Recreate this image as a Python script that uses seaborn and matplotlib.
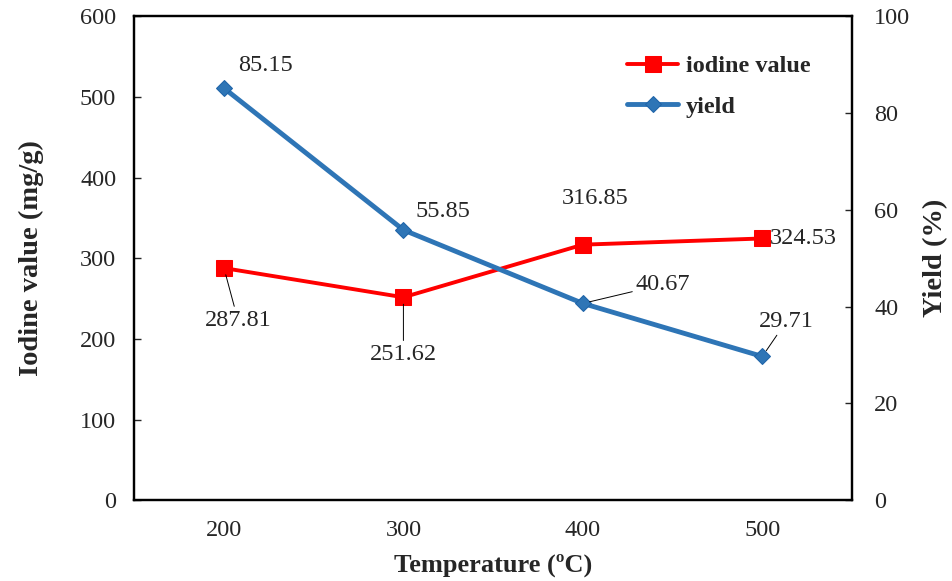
import numpy as np
import pandas as pd
import matplotlib
matplotlib.use("Agg")
import matplotlib.pyplot as plt
import seaborn as sns

temperature = ["200", "300", "400", "500"]
iodine_value = [287.81, 251.62, 316.85, 324.53]
yield_pct = [85.15, 55.85, 40.67, 29.71]

# label offsets in pixels (dx, dy) and whether a leader line is drawn
iodine_offsets = [(14, -52, True), (0, -57, True), (12, 46, False), (41, 0, False)]
yield_offsets = [(42, 23, False), (40, 18, False), (80, 19, True), (24, 35, True)]

sns.set_style("white")
plt.rcParams["font.family"] = ["Liberation Serif", "DejaVu Serif"]

df = pd.DataFrame({"temp": temperature, "iodine": iodine_value, "yield": yield_pct})

fig = plt.figure(figsize=(9.52, 5.81), dpi=100)
ax = fig.add_axes([0.141, 0.139, 0.754, 0.833])
ax2 = ax.twinx()

sns.lineplot(data=df, x="temp", y="iodine", ax=ax, color="#FF0000", lw=2.8,
             marker="s", markersize=11, markeredgecolor="#FF0000",
             label="iodine value", legend=False, sort=False)
sns.lineplot(data=df, x="temp", y="yield", ax=ax2, color="#2E75B6", lw=3.5,
             marker="D", markersize=8, markeredgecolor="#1F64A8",
             label="yield", legend=False, sort=False)

ax.set_xlim(-0.5, 3.5)
ax.set_ylim(0, 600)
ax2.set_ylim(0, 100)
ax.set_yticks(np.arange(0, 601, 100))
ax2.set_yticks(np.arange(0, 101, 20))

ax.set_xticks(range(4))
ax.set_xticklabels(temperature)
ax.set_xticks([0.5, 1.5, 2.5], minor=True)
ax.tick_params(axis="x", which="major", length=0, pad=14, labelsize=17.5)
ax.tick_params(axis="x", which="minor", direction="in", length=5, width=1)
ax.tick_params(axis="y", direction="in", length=5, width=1, pad=13, labelsize=17.5, left=True)
ax2.tick_params(axis="y", direction="in", length=5, width=1, pad=16, labelsize=17.5, right=True)

for a in (ax, ax2):
    for s in a.spines.values():
        s.set_linewidth(1.6)
        s.set_color("black")

ax.set_xlabel("Temperature (ºC)", fontsize=19, fontweight="bold", labelpad=9)
ax.set_ylabel("Iodine value (mg/g)", fontsize=20.5, fontweight="bold", labelpad=26)
ax2.set_ylabel("Yield (%)", fontsize=20.5, fontweight="bold", labelpad=9)

leader = dict(arrowstyle="-", color="black", lw=0.7, shrinkA=0, shrinkB=5)
for i, (v, (dx, dy, line)) in enumerate(zip(iodine_value, iodine_offsets)):
    ax.annotate(f"{v:.2f}", xy=(i, v), xytext=(dx, dy), textcoords="offset pixels",
                ha="center", va="center", fontsize=17.5,
                arrowprops=leader if line else None)
for i, (v, (dx, dy, line)) in enumerate(zip(yield_pct, yield_offsets)):
    ax2.annotate(f"{v:.2f}", xy=(i, v), xytext=(dx, dy), textcoords="offset pixels",
                 ha="center", va="center", fontsize=17.5,
                 arrowprops=leader if line else None)

h1, l1 = ax.get_legend_handles_labels()
h2, l2 = ax2.get_legend_handles_labels()
ax2.legend(h1 + h2, l1 + l2, loc="upper left", bbox_to_anchor=(0.687, 0.919),
           frameon=False, prop={"weight": "bold", "size": 17.5},
           borderpad=0, borderaxespad=0,
           handlelength=2.1, handletextpad=0.3, labelspacing=0.75)

fig.savefig("out.png", dpi=100)
